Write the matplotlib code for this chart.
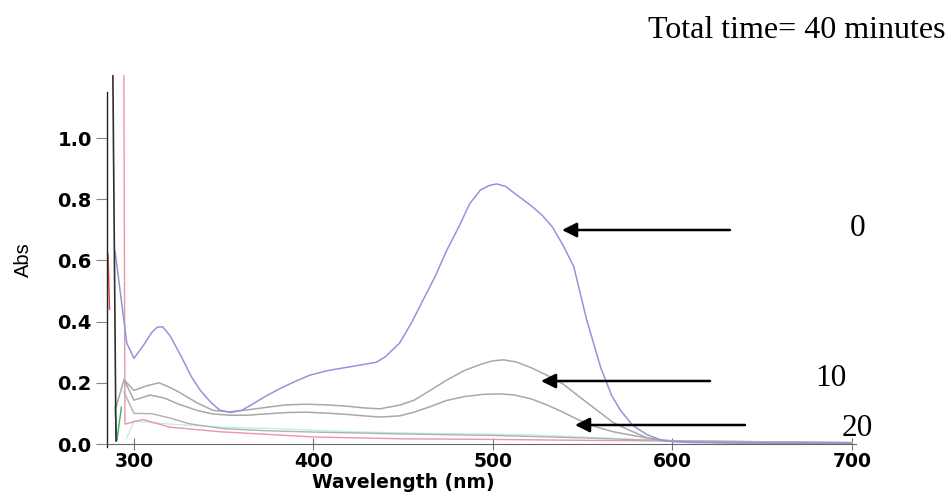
import matplotlib
matplotlib.use("Agg")
import matplotlib.pyplot as plt

# ---------------- data ----------------
# 0 min spectrum (blue)
wl_0 = [289.5, 296, 300, 305, 310, 313, 316, 320, 326, 332, 337, 343, 348, 354, 360, 366,
        373, 381, 390, 398, 408, 418, 428, 435, 440, 448, 455, 461, 468, 474, 481,
        487, 493, 498, 502, 507, 513, 521, 527, 533, 539, 545, 552, 560, 566, 571,
        578, 586, 595, 610, 640, 700]
abs_0 = [0.63, 0.33, 0.28, 0.32, 0.365, 0.382, 0.383, 0.355, 0.29, 0.22, 0.175, 0.135, 0.11, 0.103, 0.11, 0.13,
         0.155, 0.18, 0.205, 0.225, 0.24, 0.25, 0.26, 0.267, 0.285, 0.33, 0.40, 0.47, 0.55, 0.63, 0.71,
         0.785, 0.83, 0.845, 0.85, 0.842, 0.815, 0.78, 0.75, 0.71, 0.65, 0.58, 0.41, 0.25, 0.16, 0.11,
         0.06, 0.03, 0.01, 0.005, 0.003, 0.002]

# 10 min spectrum (gray)
wl_10 = [290, 294.5, 300, 307, 314, 320, 325, 335, 344, 353, 364, 374, 385, 396, 407, 418,
         428, 437, 448, 456, 465, 474, 484, 493, 500, 506, 513, 521, 530, 539, 548, 558,
         567, 576, 586, 600, 640, 700]
abs_10 = [0.12, 0.21, 0.175, 0.19, 0.20, 0.185, 0.17, 0.135, 0.11, 0.105, 0.112, 0.12, 0.128, 0.13, 0.128, 0.124,
          0.118, 0.115, 0.127, 0.143, 0.175, 0.208, 0.24, 0.26, 0.272, 0.275, 0.268, 0.25, 0.225, 0.196, 0.155, 0.11,
          0.07, 0.045, 0.02, 0.008, 0.004, 0.003]

# 20 min spectrum (gray)
wl_20 = [294.5, 300, 309, 317, 325, 335, 344, 354, 363, 375, 386, 396, 407, 418, 428, 437,
         448, 456, 465, 474, 484, 494, 504, 512, 521, 530, 539, 548, 558, 567, 576, 590, 610, 700]
abs_20 = [0.21, 0.143, 0.16, 0.15, 0.13, 0.11, 0.098, 0.094, 0.094, 0.099, 0.103, 0.104, 0.101, 0.097, 0.092, 0.088,
          0.092, 0.104, 0.122, 0.142, 0.155, 0.162, 0.164, 0.16, 0.148, 0.128, 0.104, 0.078, 0.055, 0.04, 0.03, 0.015, 0.006, 0.004]

# 30 min spectrum (gray)
wl_30 = [294.5, 300, 310, 320, 331, 350, 375, 400, 448, 500, 550, 600, 700]
abs_30 = [0.17, 0.10, 0.099, 0.085, 0.066, 0.05, 0.043, 0.039, 0.033, 0.028, 0.02, 0.01, 0.005]

# faint cyan spectrum
wl_c = [296, 300, 320, 350, 380, 420, 460, 520, 560, 600, 700]
abs_c = [0.02, 0.075, 0.065, 0.055, 0.05, 0.04, 0.035, 0.03, 0.02, 0.01, 0.005]

# 40 min spectrum (pink/red)
wl_40 = [294.3, 295, 305, 320, 348, 400, 448, 500, 550, 600, 640, 700]
abs_40 = [1.40, 0.065, 0.08, 0.055, 0.04, 0.023, 0.017, 0.015, 0.012, 0.01, 0.008, 0.004]

# solvent spikes at the start of the scan
wl_spk = [288.0, 290.0]
abs_spk = [1.40, 0.01]
wl_grn = [289.5, 290.5, 293.0]
abs_grn = [0.12, 0.01, 0.12]
wl_red = [285.6, 286.4]
abs_red = [0.62, 0.44]

x_ticks = [300, 400, 500, 600, 700]
y_ticks = [0.0, 0.2, 0.4, 0.6, 0.8, 1.0]

# ---------------- figure ----------------
W, H = 948, 493
X0, X1 = 107, 855.6      # axes pixel extent (x)
Y0, Y1 = 444, 75         # axes pixel extent (y, from top)
fig = plt.figure(figsize=(W / 100, H / 100), dpi=100)
ax = fig.add_axes([X0 / W, 1 - Y0 / H, (X1 - X0) / W, (Y0 - Y1) / H])

ax.plot(wl_c, abs_c, color="#bfeeee", lw=1.0)
ax.plot(wl_40, abs_40, color="#ec94a8", lw=1.0)
ax.plot(wl_30, abs_30, color="#b0b0b0", lw=1.0)
ax.plot(wl_20, abs_20, color="#a8a8a8", lw=1.1)
ax.plot(wl_10, abs_10, color="#a8a8a8", lw=1.1)
ax.plot(wl_0, abs_0, color="#9494dc", lw=1.1)
ax.plot(wl_grn, abs_grn, color="#3cb06a", lw=1.0)
ax.plot(wl_red, abs_red, color="#e04040", lw=1.0)
ax.plot(wl_spk, abs_spk, color="#303030", lw=1.2)

ax.set_xlim(285, 702)
ax.set_ylim(0, 1.206)

for s in ["top", "right"]:
    ax.spines[s].set_visible(False)
ax.spines["left"].set_bounds(-0.01, 1.15)
ax.spines["left"].set_color("#222222")
ax.spines["bottom"].set_color("#666666")
ax.spines["left"].set_linewidth(1.0)
ax.spines["bottom"].set_linewidth(0.8)

ax.set_xticks(x_ticks)
ax.set_yticks(y_ticks)
ax.set_xticklabels([str(v) for v in x_ticks], fontweight="bold", fontsize=13.5, family="DejaVu Sans")
ax.set_yticklabels([f"{v:.1f}" for v in y_ticks], fontweight="bold", fontsize=14, family="DejaVu Sans")
ax.tick_params(axis="y", direction="out", length=8, width=0.8, color="#888888", pad=3)
ax.tick_params(axis="x", direction="inout", length=8, width=0.8, color="#777777", pad=1.5)

ax.set_xlabel("Wavelength (nm)", fontweight="bold", fontsize=13.5, family="DejaVu Sans")
ax.xaxis.set_label_coords((403 - X0) / (X1 - X0), -(482 - Y0) / (Y0 - Y1))
ax.set_ylabel("Abs", fontsize=14.5, family="Liberation Sans")
ax.yaxis.set_label_coords(-(X0 - 23) / (X1 - X0), (Y0 - 260) / (Y0 - Y1))
ax.xaxis.label.set_va("center")
ax.yaxis.label.set_va("center")

# annotations
serif = "Liberation Serif"
fig.text(648 / W, 1 - 38 / H, "Total time= 40 minutes", family=serif, fontsize=23,
         ha="left", va="baseline")
fig.text(858 / W, 1 - 229 / H, "0", family=serif, fontsize=22.5, ha="center", va="center")
fig.text(831 / W, 1 - 378 / H, "10", family=serif, fontsize=22.5, ha="center", va="center")
fig.text(857 / W, 1 - 429 / H, "20", family=serif, fontsize=22.5, ha="center", va="center")

arrows = [((562, 230), (730, 230)), ((541, 381), (710, 381)), ((575, 425), (745, 425))]
for (tx, ty), (sx, sy) in arrows:
    fig.add_artist(matplotlib.patches.FancyArrowPatch(
        (sx / W, 1 - sy / H), (tx / W, 1 - ty / H), transform=fig.transFigure,
        arrowstyle="-|>", mutation_scale=22, color="black", lw=1.8,
        shrinkA=0, shrinkB=0))

fig.savefig("out.png", dpi=100)
